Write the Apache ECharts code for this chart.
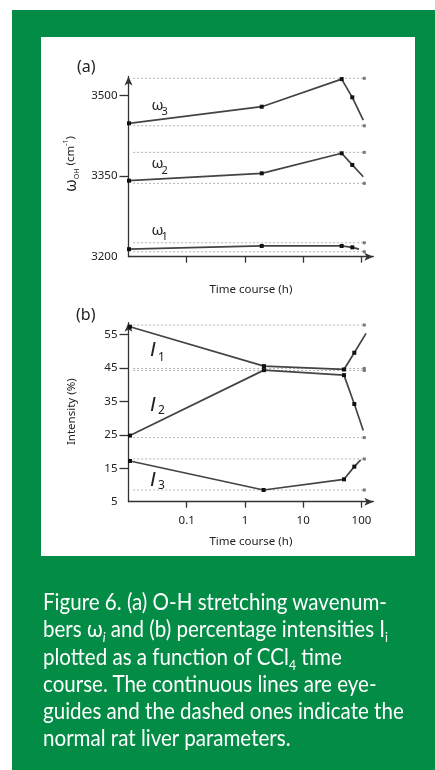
<!DOCTYPE html>
<html><head><meta charset="utf-8">
<script src="https://cdn.jsdelivr.net/npm/echarts@6/dist/echarts.min.js"></script>
<style>
html,body{margin:0;padding:0;width:435px;height:770px;background:#fff;overflow:hidden}
#green{position:absolute;left:12px;top:10px;width:423px;height:760px;background:#038c45}
#panel{position:absolute;left:41px;top:37px;width:374px;height:519px;background:#fff}
#chart{position:absolute;left:0;top:0;width:435px;height:770px}
#caption{position:absolute;left:43px;top:588px;color:#fff;font-family:Lato,'Noto Sans',sans-serif;font-size:23.5px;line-height:27.3px;white-space:nowrap;transform-origin:0 0}
#caption sub{font-size:60%;vertical-align:-0.35em;line-height:0}
#caption span{display:inline-block}
</style></head>
<body>
<div id="green"></div>
<div id="panel"></div>
<div id="chart"></div>
<div id="caption"><span id="l1">Figure 6. (a) O-H stretching wavenum-</span><br>bers ω<sub><i>i</i></sub> and (b) percentage intensities I<sub>i</sub><br>plotted as a function of CCl<sub>4</sub> time<br>course. The continuous lines are eye-<br>guides and the dashed ones indicate the<br>normal rat liver parameters.</div>
<script>
// ---- data ----
const hourTicks = [0.1, 1, 10, 100];
const omegaTicks = [3200, 3350, 3500];
const intensityTicks = [5, 15, 25, 35, 45, 55];

// [time (h), wavenumber (cm^-1)]
const omega1 = [[0.0102, 3214], [1.94, 3220], [45.8, 3220], [69.7, 3217.5], [90.8, 3214]];
const omega2 = [[0.0102, 3341.6], [1.94, 3355.4], [45.8, 3392.7], [69.7, 3371], [107.6, 3349]];
const omega3 = [[0.0102, 3448.6], [1.94, 3479.5], [45.8, 3531], [69.7, 3497], [107.6, 3454.7]];
const omegaNormal = [3532.4, 3444, 3394.5, 3336.7, 3226, 3209.3];

// [time (h), intensity (%)]
const int1 = [[0.0106, 57.4], [2.12, 45.6], [50.2, 44.6], [75.5, 49.6], [120, 55.4]];
const int2 = [[0.0106, 24.8], [2.12, 44.4], [50.2, 42.9], [75.5, 34.25], [107.6, 26.3]];
const int3 = [[0.0106, 17.2], [2.09, 8.5], [50.2, 11.7], [75.5, 15.5], [97.3, 17.5]];
const intensityNormal = [57.9, 44.9, 44.3, 24.2, 17.8, 8.5];
const normalSpan = [0.012, 112];

// fit caption width (condensed face in the reference)
(function () {
  const cap = document.getElementById('caption');
  const w = document.getElementById('l1').getBoundingClientRect().width;
  if (w > 0) cap.style.transform = 'scaleX(' + (344 / w) + ')';
})();

// ---- styling ----
const FONT = "'Noto Sans', sans-serif";
const AX = '#333';
const chart = echarts.init(document.getElementById('chart'), null, {renderer: 'canvas'});

function lineSeries(data, idx) {
  return {
    type: 'line', xAxisIndex: idx, yAxisIndex: idx, silent: true, animation: false, z: 4,
    data: data.map((p, i) => ({value: p, symbol: i === data.length - 1 ? 'none' : 'rect'})),
    symbolSize: 4, lineStyle: {color: '#444', width: 1.7}, itemStyle: {color: '#111'}
  };
}
function normalSeries(v, idx) {
  return {
    type: 'line', xAxisIndex: idx, yAxisIndex: idx, silent: true, animation: false, z: 2,
    data: [{value: [normalSpan[0], v], symbol: 'none'}, {value: [normalSpan[1], v], symbol: 'rect', symbolSize: 3}],
    lineStyle: {color: '#b3b3b3', width: 1, type: [2, 2]}, itemStyle: {color: '#777'}
  };
}
function xAxis(idx, showLabels, gap) {
  return {
    gridIndex: idx, type: 'log', logBase: 10, min: 0.01, max: 160,
    axisLine: {show: true, onZero: false, lineStyle: {color: AX, width: 1.3}, symbol: ['none', 'arrow'], symbolSize: [6, 9]},
    axisTick: {show: true, customValues: hourTicks, length: 6, lineStyle: {color: AX, width: 1.3}},
    axisLabel: {show: showLabels, customValues: hourTicks, margin: 13, fontSize: 11.5, color: '#222', fontFamily: FONT,
      formatter: v => String(+Number(v).toPrecision(3))},
    splitLine: {show: false}, minorTick: {show: false},
    name: 'Time course (h)', nameLocation: 'middle', nameGap: gap,
    nameTextStyle: {fontSize: 11.5, color: '#222', fontFamily: FONT}
  };
}
function yAxis(idx, min, max, labels) {
  return {
    gridIndex: idx, type: 'value', min: min, max: max,
    axisLine: {show: true, onZero: false, lineStyle: {color: AX, width: 1.3}, symbol: ['none', 'arrow'], symbolSize: [6, 9]},
    axisTick: {show: true, customValues: labels.slice(1), length: 9, lineStyle: {color: AX, width: 1.3}},
    axisLabel: {customValues: labels, margin: 11, fontSize: 11.5, color: '#222', fontFamily: FONT,
      formatter: v => String(Math.round(v))},
    splitLine: {show: false}
  };
}
function txt(x, y, text, size, extra) {
  return Object.assign({type: 'text', x: x, y: y, silent: true, z: 10,
    style: {text: text, fontSize: size, fontFamily: FONT, fill: '#222', verticalAlign: 'middle', align: 'left'}}, extra || {});
}
function ital(x, y, text, size) {
  const t = txt(x, y, text, size);
  t.style.fontStyle = 'italic';
  t.style.fontFamily = "'Liberation Sans', 'DejaVu Sans', sans-serif";
  return t;
}

const option = {
  animation: false,
  grid: [
    {left: 128.5, top: 76.4, width: 244.8, height: 180.3},
    {left: 128.5, top: 322.7, width: 244.8, height: 179.0}
  ],
  xAxis: [xAxis(0, false, 27), xAxis(1, true, 34)],
  yAxis: [yAxis(0, 3200, 3536, omegaTicks), yAxis(1, 5, 58.6, intensityTicks)],
  series: [].concat(
    omegaNormal.map(v => normalSeries(v, 0)),
    intensityNormal.map(v => normalSeries(v, 1)),
    [lineSeries(omega1, 0), lineSeries(omega2, 0), lineSeries(omega3, 0),
     lineSeries(int1, 1), lineSeries(int2, 1), lineSeries(int3, 1)]
  ),
  graphic: [
    txt(77, 67, '(a)', 16),
    txt(76, 315, '(b)', 16),
    txt(151.5, 106, 'ω', 15), txt(161.5, 112, '3', 11),
    txt(151.5, 163.5, 'ω', 15), txt(161.5, 171, '2', 11),
    txt(151.5, 230.5, 'ω', 15), txt(161.5, 236.5, '1', 11),
    ital(150, 350.5, 'I', 21), txt(158, 358, '1', 12),
    ital(150, 405.5, 'I', 21), txt(158, 411, '2', 12),
    ital(150, 479.7, 'I', 21), txt(158, 486, '3', 12),
    {type: 'text', x: 71, y: 164, rotation: Math.PI / 2, silent: true, z: 10,
      style: {text: '{w|ω}{s|OH}{n| (cm}{p|-1}{n|)}', align: 'center', verticalAlign: 'middle', fill: '#222', fontFamily: FONT,
        rich: {
          w: {fontSize: 16, lineHeight: 18, fontFamily: FONT, fill: '#222', verticalAlign: 'middle'},
          s: {fontSize: 7, lineHeight: 8, fontFamily: FONT, fill: '#222', verticalAlign: 'bottom'},
          n: {fontSize: 11.5, lineHeight: 18, fontFamily: FONT, fill: '#222', verticalAlign: 'middle'},
          p: {fontSize: 7, lineHeight: 8, fontFamily: FONT, fill: '#222', verticalAlign: 'top'}
        }}},
    {type: 'text', x: 71.5, y: 411.7, rotation: Math.PI / 2, silent: true, z: 10,
      style: {text: 'Intensity (%)', fontSize: 11.5, fontFamily: FONT, fill: '#222', align: 'center', verticalAlign: 'middle'}}
  ]
};
chart.setOption(option);
</script>
</body></html>
